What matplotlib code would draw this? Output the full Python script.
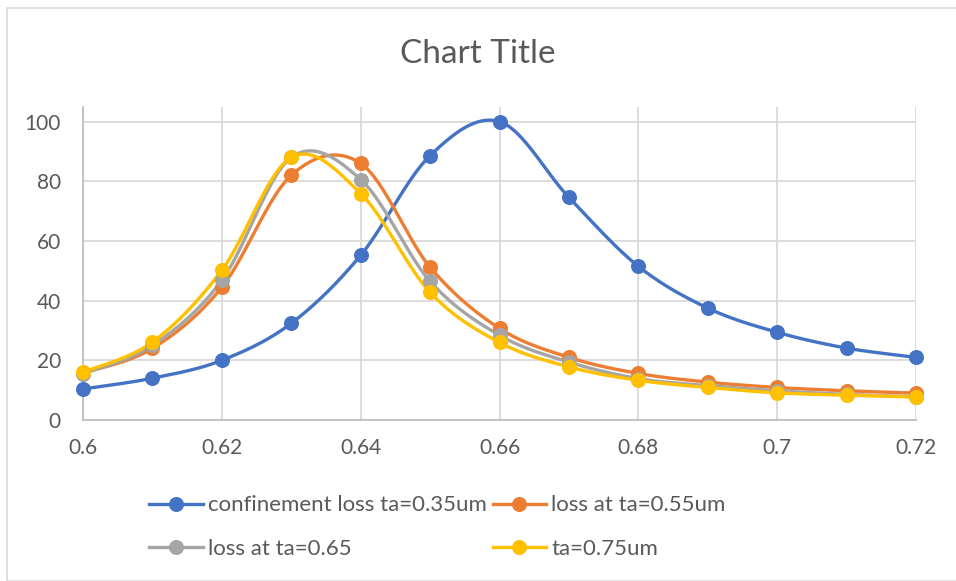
import numpy as np
import matplotlib
matplotlib.use("Agg")
import matplotlib.pyplot as plt
from matplotlib.patches import Rectangle

plt.rcParams['font.family'] = ['Lato', 'DejaVu Sans']

# Wavelength samples (x) and loss values per series
wavelength = [0.60, 0.61, 0.62, 0.63, 0.64, 0.65, 0.66, 0.67, 0.68, 0.69, 0.70, 0.71, 0.72]
loss_035 = [10.4, 14.0, 20.0, 32.4, 55.2, 88.6, 100.0, 74.6, 51.5, 37.5, 29.4, 24.1, 21.0]
loss_055 = [15.7, 24.0, 44.5, 82.0, 86.0, 51.2, 30.7, 21.0, 15.6, 12.7, 10.9, 9.8, 9.0]
loss_065 = [15.5, 25.0, 46.8, 88.0, 80.6, 46.5, 28.4, 19.4, 13.9, 11.5, 9.8, 8.6, 7.8]
loss_075 = [16.0, 26.1, 50.2, 88.0, 75.9, 42.8, 26.0, 17.8, 13.3, 10.9, 9.1, 8.3, 7.7]

labels = ["confinement loss ta=0.35um", "loss at ta=0.55um", "loss at ta=0.65", "ta=0.75um"]
colors = ["#4472C4", "#ED7D31", "#A5A5A5", "#FFC000"]
xticks = [0.6, 0.62, 0.64, 0.66, 0.68, 0.7, 0.72]
xtick_labels = ["0.6", "0.62", "0.64", "0.66", "0.68", "0.7", "0.72"]
yticks = [0, 20, 40, 60, 80, 100]


def smooth_curve(x, y, n=40):
    """Bezier smoothing through every point (spreadsheet-style smoothed line)."""
    p = np.column_stack([x, y]).astype(float)
    out = []
    m = len(p)
    t = np.linspace(0, 1, n)[:, None]
    for i in range(m - 1):
        p0 = p[i - 1] if i > 0 else p[i]
        p1 = p[i]
        p2 = p[i + 1]
        p3 = p[i + 2] if i + 2 < m else p[i + 1]
        c1 = p1 + (p2 - p0) / 6.0
        c2 = p2 - (p3 - p1) / 6.0
        seg = ((1 - t) ** 3) * p1 + 3 * ((1 - t) ** 2) * t * c1 + 3 * (1 - t) * t ** 2 * c2 + t ** 3 * p2
        out.append(seg if i == 0 else seg[1:])
    s = np.vstack(out)
    return s[:, 0], s[:, 1]


fig = plt.figure(figsize=(9.56, 5.81), dpi=100)
fig.patch.set_facecolor("white")

# outer chart frame
fig.add_artist(Rectangle((7 / 956, 0.0), 1.2, 1 - 8 / 581, transform=fig.transFigure,
                         fill=False, edgecolor="#D9D9D9", linewidth=1.2))

ax = fig.add_axes([83 / 956, 1 - 420 / 581, (916 - 83) / 956, (420 - 107) / 581])
ax.set_xlim(0.6, 0.72)
ax.set_ylim(0, 104.9)

series = [loss_035, loss_055, loss_065, loss_075]
handles = []
for vals, col, lab in zip(series, colors, labels):
    sx, sy = smooth_curve(wavelength, vals)
    ax.plot(sx, sy, color=col, linewidth=2.4, solid_capstyle="round", zorder=3)
    ax.plot(wavelength, vals, linestyle="none", marker="o", markersize=9.8,
            color=col, zorder=4, clip_on=False)
    h, = ax.plot([], [], color=col, linewidth=2.4, marker="o", markersize=9.8, label=lab)
    handles.append(h)

ax.set_xticks(xticks)
ax.set_xticklabels(xtick_labels)
ax.set_yticks(yticks)
ax.grid(True, color="#D9D9D9", linewidth=1.3)
ax.set_axisbelow(True)
for side in ["top", "right"]:
    ax.spines[side].set_visible(False)
for side in ["left", "bottom"]:
    ax.spines[side].set_color("#BFBFBF")
    ax.spines[side].set_linewidth(1.3)
ax.tick_params(axis="both", length=0, labelsize=15, colors="#595959")
ax.tick_params(axis="x", pad=13)
ax.tick_params(axis="y", pad=16)

fig.text(0.5, 1 - 54 / 581, "Chart Title", ha="center", va="center",
         fontsize=24, color="#595959")

# legend laid out row by row: (blue, orange) then (gray, yellow)
legend_order = [handles[0], handles[2], handles[1], handles[3]]
fig.legend(handles=legend_order, ncol=2, loc="center", bbox_to_anchor=(0.4577, 1 - 527 / 581),
           frameon=False, fontsize=16, labelcolor="#595959", handlelength=2.4,
           handletextpad=0.23, columnspacing=0.27, labelspacing=1.05)

fig.savefig("out.png", dpi=100)
